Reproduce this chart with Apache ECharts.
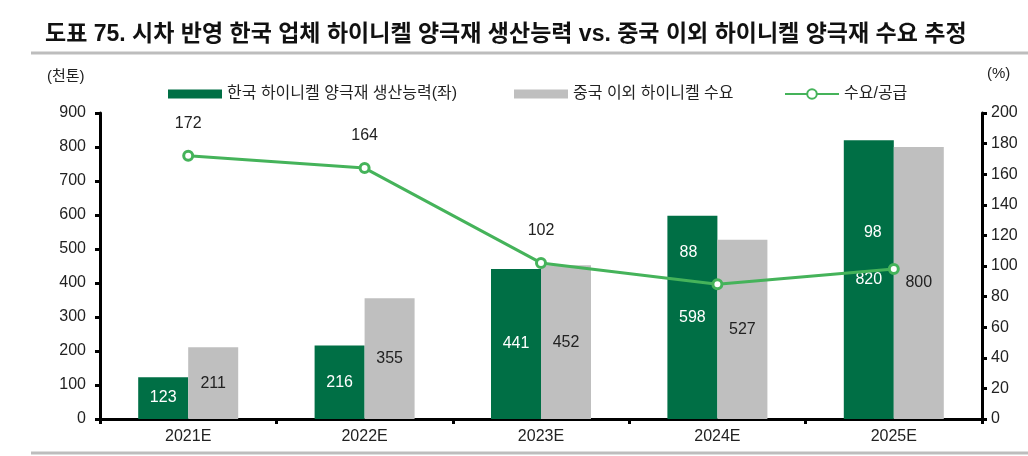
<!DOCTYPE html>
<html>
<head>
<meta charset="utf-8">
<script src="https://cdn.jsdelivr.net/npm/echarts@6/dist/echarts.min.js"></script>
<style>
  html, body { margin: 0; padding: 0; background: #fff; }
  #main { width: 1028px; height: 456px; }
</style>
</head>
<body>
<div id="main"></div>
<script>
// 카테고리, 값
var years = ['2021E', '2022E', '2023E', '2024E', '2025E'];
var krCapa = [123, 216, 441, 598, 820];      // 한국 하이니켈 양극재 생산능력(좌)
var exChinaDemand = [211, 355, 452, 527, 800]; // 중국 이외 하이니켈 수요
var ratio = [172, 164, 102, 88, 98];          // 수요/공급 (%)

var FONT = 'Liberation Sans, Noto Sans CJK KR, sans-serif';
var ec = echarts.init(document.getElementById('main'));

// 초록 막대 위에 걸리는 라벨은 흰색, 막대 쪽으로 조금 당김
var labelFix = { 3: [-29, 0], 4: [-21, -4] };
var ratioData = ratio.map(function (v, i) {
    var off = labelFix[i];
    return {
        value: v,
        label: off ? { color: '#fff', offset: off } : { color: '#222' }
    };
});

var legendText = { fontSize: 16, color: '#222', fontFamily: FONT };

var option = {
    animation: false,
    textStyle: { fontFamily: FONT },
    title: {
        text: '도표 75. 시차 반영 한국 업체 하이니켈 양극재 생산능력 vs. 중국 이외 하이니켈 양극재 수요 추정',
        left: 40, top: 18,
        textStyle: { fontSize: 23, fontWeight: 'bold', color: '#111', fontFamily: FONT }
    },
    graphic: [
        { type: 'line', shape: { x1: 31, y1: 53, x2: 1028, y2: 53 }, style: { stroke: '#bdbdbd', lineWidth: 3 } },
        { type: 'line', shape: { x1: 31, y1: 453, x2: 1028, y2: 453 }, style: { stroke: '#bdbdbd', lineWidth: 3 } },
        { type: 'text', left: 47, top: 69, style: { text: '(천톤)', fontSize: 15, fill: '#222', fontFamily: FONT } },
        { type: 'text', left: 987, top: 66, style: { text: '(%)', fontSize: 15, fill: '#222', fontFamily: FONT } }
    ],
    legend: [
        {
            top: 81, left: 163, itemWidth: 54, itemHeight: 9, itemGap: 5,
            textStyle: legendText,
            data: [{ name: '한국 하이니켈 양극재 생산능력(좌)', icon: 'rect' }]
        },
        {
            top: 81, left: 509, itemWidth: 54, itemHeight: 9, itemGap: 5,
            textStyle: legendText,
            data: [{ name: '중국 이외 하이니켈 수요', icon: 'rect' }]
        },
        {
            top: 81, left: 779, itemWidth: 54, itemHeight: 12, itemGap: 5,
            textStyle: legendText,
            data: [{ name: '수요/공급' }]
        }
    ],
    grid: { left: 100, right: 46, top: 113, bottom: 37 },
    xAxis: {
        type: 'category',
        data: years,
        axisLine: { lineStyle: { color: '#000', width: 3 } },
        axisTick: { show: true, length: 5, lineStyle: { color: '#000', width: 3 } },
        axisLabel: { fontSize: 16, color: '#222', margin: 10 }
    },
    yAxis: [
        {
            type: 'value', min: 0, max: 900, interval: 100,
            axisLine: { show: true, lineStyle: { color: '#000', width: 3 } },
            axisTick: { show: true, length: 5, lineStyle: { color: '#000', width: 3 } },
            axisLabel: { fontSize: 16, color: '#222', margin: 14 },
            splitLine: { show: false }
        },
        {
            type: 'value', min: 0, max: 200, interval: 20,
            axisLine: { show: true, lineStyle: { color: '#000', width: 3 } },
            axisTick: { show: true, length: 5, lineStyle: { color: '#000', width: 3 } },
            axisLabel: { fontSize: 16, color: '#222', margin: 9 },
            splitLine: { show: false }
        }
    ],
    series: [
        {
            name: '한국 하이니켈 양극재 생산능력(좌)',
            type: 'bar',
            data: krCapa,
            barWidth: 50,
            barGap: '0%',
            itemStyle: { color: '#006f45' },
            label: { show: true, position: 'inside', color: '#fff', fontSize: 16 }
        },
        {
            name: '중국 이외 하이니켈 수요',
            type: 'bar',
            data: exChinaDemand,
            barWidth: 50,
            itemStyle: { color: '#bfbfbf' },
            label: { show: true, position: 'inside', color: '#222', fontSize: 16 }
        },
        {
            name: '수요/공급',
            type: 'line',
            yAxisIndex: 1,
            data: ratioData,
            z: 5,
            symbol: 'circle',
            symbolSize: 9,
            lineStyle: { color: '#45b35a', width: 3 },
            itemStyle: { color: '#fff', borderColor: '#45b35a', borderWidth: 3 },
            label: { show: true, position: 'top', distance: 18, fontSize: 16 }
        }
    ]
};

ec.setOption(option);
</script>
</body>
</html>
